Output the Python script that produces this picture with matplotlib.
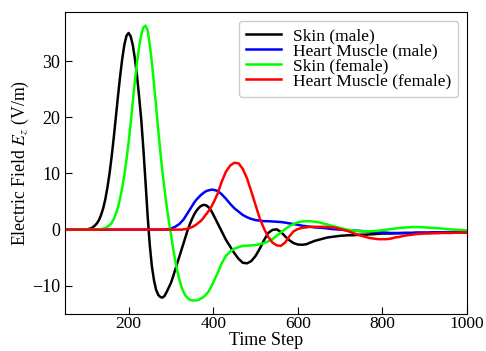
import matplotlib
matplotlib.use('Agg')
import matplotlib.pyplot as plt
import numpy as np

plt.rcParams['font.family'] = ['Liberation Serif', 'DejaVu Serif']
plt.rcParams['mathtext.fontset'] = 'stix'

# sampled every 10 steps, every 5 steps through the fast part (100-395)
steps = np.concatenate([np.arange(50, 100, 10),
                        np.arange(100, 400, 5),
                        np.arange(400, 1001, 10)])

skin_male = [
    0, 0, 0, 0, 0,
    # 100 - 395
    0.0, 0.1, 0.2, 0.4, 0.7, 1.1, 1.7, 2.6, 3.8, 5.4,
    7.5, 10.0, 13.0, 16.4, 20.1, 23.8, 27.3, 30.4, 32.9, 34.5,
    35.0, 34.4, 32.8, 30.4, 27.3, 23.6, 19.5, 14.3, 8.5, 2.5,
    -2.7, -6.5, -9.0, -10.7, -11.6, -12.0, -12.1, -11.8, -11.1, -10.3,
    -9.5, -8.4, -7.2, -6.0, -4.8, -3.6, -2.4, -1.2, 0.0, 1.0,
    1.9, 2.7, 3.3, 3.8, 4.15, 4.35, 4.4, 4.25, 3.9, 3.4,
    # 400 - 1000
    2.7, 1.2, -0.3, -1.8, -3.0, -4.2, -5.2, -5.9, -6.0, -5.6,
    -4.7, -3.4, -1.9, -0.6, -0.05, 0.05, -0.4, -1.2, -1.9, -2.4,
    -2.65, -2.7, -2.6, -2.3, -2.0, -1.8, -1.6, -1.4, -1.3, -1.2,
    -1.1, -1.05, -1.0, -1.0, -0.95, -0.9, -0.9, -0.85, -0.8, -0.75,
    -0.7, -0.7, -0.7, -0.65, -0.65, -0.6, -0.6, -0.6, -0.55, -0.55,
    -0.55, -0.55, -0.5, -0.5, -0.5, -0.5, -0.5, -0.5, -0.5, -0.5,
    -0.5,
]

heart_male = [
    0, 0, 0, 0, 0,
    0, 0, 0, 0, 0, 0, 0, 0, 0, 0,
    0, 0, 0, 0, 0, 0, 0, 0, 0, 0,
    0, 0, 0, 0, 0, 0, 0, 0, 0, 0,
    0, 0, 0, 0, 0, 0, 0, 0, 0.05, 0.1,
    0.2, 0.35, 0.5, 0.75, 1.0, 1.4, 1.8, 2.4, 3.0, 3.6,
    4.2, 4.8, 5.3, 5.7, 6.1, 6.4, 6.7, 6.9, 7.0, 7.1,
    7.1, 6.9, 6.3, 5.5, 4.6, 3.8, 3.2, 2.6, 2.2, 1.9,
    1.7, 1.6, 1.5, 1.5, 1.45, 1.4, 1.35, 1.25, 1.1, 1.0,
    0.85, 0.7, 0.6, 0.5, 0.4, 0.35, 0.3, 0.2, 0.1, 0.05,
    0.0, -0.05, -0.1, -0.15, -0.2, -0.25, -0.3, -0.35, -0.4, -0.45,
    -0.5, -0.55, -0.6, -0.6, -0.6, -0.6, -0.6, -0.6, -0.55, -0.55,
    -0.55, -0.55, -0.5, -0.5, -0.5, -0.5, -0.5, -0.45, -0.45, -0.45,
    -0.45,
]

skin_female = [
    0, 0, 0, 0, 0,
    0, 0, 0, 0, 0, 0, 0.05, 0.1, 0.2, 0.3,
    0.5, 0.8, 1.2, 1.9, 2.8, 4.0, 5.6, 7.5, 9.7, 12.4,
    15.5, 19.0, 22.8, 26.5, 29.8, 32.6, 34.7, 36.0, 36.3, 35.5,
    33.0, 29.8, 26.0, 21.9, 17.8, 13.9, 10.3, 7.1, 4.2, 1.6,
    -0.8, -3.2, -5.4, -7.3, -8.9, -10.2, -11.1, -11.8, -12.2, -12.5,
    -12.6, -12.6, -12.6, -12.5, -12.3, -12.1, -11.8, -11.4, -10.9, -10.2,
    -9.4, -7.8, -6.0, -4.7, -3.9, -3.4, -3.1, -2.9, -2.85, -2.8,
    -2.75, -2.6, -2.4, -2.1, -1.7, -1.1, -0.5, 0.1, 0.6, 1.0,
    1.3, 1.45, 1.5, 1.5, 1.4, 1.3, 1.1, 0.9, 0.7, 0.5,
    0.3, 0.1, -0.05, -0.15, -0.25, -0.3, -0.3, -0.3, -0.25, -0.2,
    -0.1, 0.0, 0.1, 0.2, 0.3, 0.35, 0.4, 0.45, 0.45, 0.45,
    0.4, 0.35, 0.3, 0.25, 0.2, 0.1, 0.05, 0.0, -0.05, -0.1,
    -0.15,
]

heart_female = [
    0, 0, 0, 0, 0,
    0, 0, 0, 0, 0, 0, 0, 0, 0, 0,
    0, 0, 0, 0, 0, 0, 0, 0, 0, 0,
    0, 0, 0, 0, 0, 0, 0, 0, 0, 0,
    0, 0, 0, 0, 0, 0, 0, 0, 0, 0,
    0, 0, 0, 0, 0, 0, 0.05, 0.1, 0.2, 0.3,
    0.45, 0.65, 0.9, 1.2, 1.5, 1.9, 2.4, 2.9, 3.4, 4.0,
    4.7, 6.3, 8.5, 10.3, 11.4, 11.9, 11.8, 10.8, 9.1, 6.8,
    4.4, 2.0, 0.2, -1.3, -2.3, -2.8, -2.9, -2.3, -1.2, -0.3,
    0.1, 0.3, 0.4, 0.5, 0.5, 0.5, 0.5, 0.45, 0.4, 0.3,
    0.1, -0.1, -0.3, -0.6, -0.85, -1.1, -1.3, -1.5, -1.6, -1.7,
    -1.7, -1.7, -1.6, -1.4, -1.3, -1.1, -1.0, -0.9, -0.8, -0.75,
    -0.7, -0.7, -0.65, -0.65, -0.6, -0.6, -0.6, -0.55, -0.55, -0.5,
    -0.5,
]

fig = plt.figure(figsize=(4.86, 3.51), dpi=100)
ax = fig.add_axes([0.134, 0.105, 0.827, 0.861])

ax.plot(steps, skin_male, color='black', lw=1.8, label='Skin (male)')
ax.plot(steps, heart_male, color='blue', lw=1.8, label='Heart Muscle (male)')
ax.plot(steps, skin_female, color='#00ff00', lw=1.8, label='Skin (female)')
ax.plot(steps, heart_female, color='red', lw=1.8, label='Heart Muscle (female)')

ax.set_xlim(50, 1000)
ax.set_xticks([200, 400, 600, 800, 1000])
ax.set_yticks([-10, 0, 10, 20, 30])
ax.tick_params(direction='in', labelsize=13, length=5)
ax.tick_params(axis='x', labelsize=12.5, pad=1.5)
ax.set_xlabel('Time Step', fontsize=13, labelpad=0)
ax.set_ylabel('Electric Field $E_z$ (V/m)', fontsize=12.8, labelpad=1)

ax.legend(loc='upper right', fontsize=12.6, labelspacing=-0.06, handlelength=2.0,
          handletextpad=0.7, borderpad=0.4, framealpha=1)

fig.savefig('out.png', dpi=100)
